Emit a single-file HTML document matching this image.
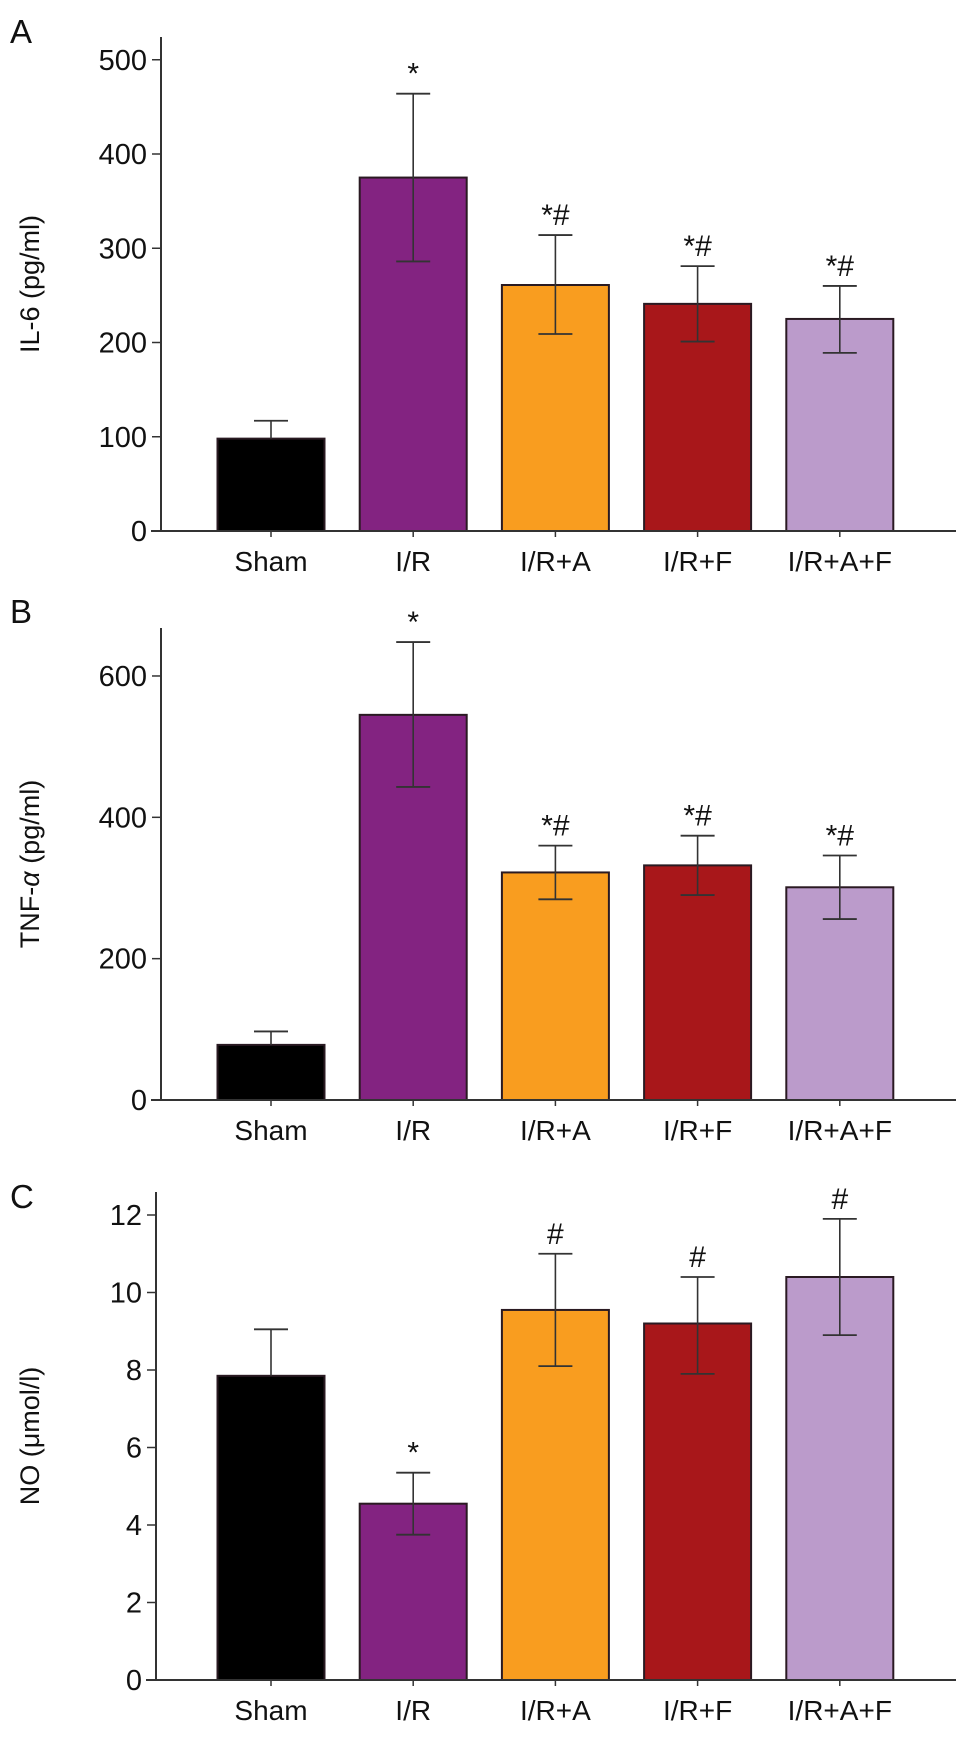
<!DOCTYPE html>
<html><head><meta charset="utf-8"><style>
html,body{margin:0;padding:0;background:#fff}
svg{display:block}
text{font-family:"Liberation Sans",sans-serif;fill:#111}
</style></head><body>
<svg id="fig" width="969" height="1743" viewBox="0 0 969 1743" xmlns="http://www.w3.org/2000/svg"></svg>
<script>
const categories = ["Sham","I/R","I/R+A","I/R+F","I/R+A+F"];
const colors = ["#000000","#832381","#F99D1F","#A8171A","#BB9BCB"];
const il6Values = [98,375,261,241,225];
const il6Upper = [117,464,314,281,260];
const il6Lower = [98,286,209,201,189];
const il6Marks = ["","*","*#","*#","*#"];
const il6Ticks = [0,100,200,300,400,500];
const tnfValues = [78,545,322,332,301];
const tnfUpper = [97,648,360,374,346];
const tnfLower = [78,443,284,290,256];
const tnfMarks = ["","*","*#","*#","*#"];
const tnfTicks = [0,200,400,600];
const noValues = [7.85,4.55,9.55,9.2,10.4];
const noUpper = [9.05,5.35,11.0,10.4,11.9];
const noLower = [7.85,3.75,8.1,7.9,8.9];
const noMarks = ["","*","#","#","#"];
const noTicks = [0,2,4,6,8,10,12];

const svg = document.getElementById('fig');
const NS = "http://www.w3.org/2000/svg";
function mk(tag, attrs, parent){
  const e = document.createElementNS(NS, tag);
  for (const k in attrs) e.setAttribute(k, attrs[k]);
  (parent||svg).appendChild(e);
  return e;
}
function panel(cfg){
  const g = mk('g', {});
  
  
  const y = v => cfg.y0 - v * cfg.pxPerUnit;
  const xc = i => 271 + i * 142.2;
  const L = mk('text', {x: 10, y: cfg.letterY, 'font-size': 33}, g);
  L.textContent = cfg.letter;
  
  
  const ya = mk('line', {x1: cfg.ax, y1: cfg.top, x2: cfg.ax, y2: cfg.y0, stroke: '#333', 'stroke-width': 2}, g);
  
  
  cfg.ticks.forEach(t => {
    const tl = mk('line', {x1: cfg.ax - 9, y1: y(t), x2: cfg.ax, y2: y(t), stroke: '#333', 'stroke-width': 1.5}, g);
    
    
    const tx = mk('text', {x: cfg.ax - 14, y: y(t) + 10, 'font-size': 29, 'text-anchor': 'end'}, g);
    tx.textContent = t;
    
    
  });
  const midY = (cfg.top + cfg.y0) / 2;
  const yt = mk('text', {x: 0, y: 0, 'font-size': 27, 'text-anchor': 'middle', transform: `translate(39,${midY}) rotate(-90)`}, g);
  yt.innerHTML = cfg.title;
  
  
  categories.forEach((c, i) => {
    const x = xc(i), w = 107;
    const top = y(cfg.values[i]);
    const r = mk('rect', {x: x - w/2, y: top, width: w, height: cfg.y0 - top, fill: colors[i], stroke: '#2a1a22', 'stroke-width': 2}, g);
    
    
    const eu = y(cfg.upper[i]), el = y(cfg.lower[i]);
    const stroke = '#333';
    const ev = mk('line', {x1: x, y1: eu, x2: x, y2: el, stroke: stroke, 'stroke-width': 1.6}, g);
    
    
    const cu = mk('line', {x1: x - 17, y1: eu, x2: x + 17, y2: eu, stroke: stroke, 'stroke-width': 1.8}, g);
    
    
    if (cfg.lower[i] < cfg.values[i]) {
      const cl = mk('line', {x1: x - 17, y1: el, x2: x + 17, y2: el, stroke: stroke, 'stroke-width': 1.8}, g);
      
      
    }
    if (cfg.marks[i]) {
      const m = mk('text', {x: x, y: eu - 10, 'font-size': 30, 'text-anchor': 'middle'}, g);
      m.textContent = cfg.marks[i];
      
      
    }
    const xt = mk('line', {x1: x, y1: cfg.y0, x2: x, y2: cfg.y0 + 6, stroke: '#333', 'stroke-width': 1.5}, g);
    
    
    const lab = mk('text', {x: x, y: cfg.y0 + 40, 'font-size': 28, 'text-anchor': 'middle'}, g);
    lab.textContent = c;
    
    
  });
  const xa = mk('line', {x1: cfg.ax - 10, y1: cfg.y0, x2: 956, y2: cfg.y0, stroke: '#333', 'stroke-width': 2}, g);
  
  
}
panel({name:'panel-a-il6', letter:'A', letterY:43, ax:161, top:37, y0:531, pxPerUnit:0.9425,
  ticks:il6Ticks, values:il6Values, upper:il6Upper, lower:il6Lower, marks:il6Marks, title:'IL-6 (pg/ml)'});
panel({name:'panel-b-tnf', letter:'B', letterY:623, ax:161, top:628, y0:1100, pxPerUnit:0.7067,
  ticks:tnfTicks, values:tnfValues, upper:tnfUpper, lower:tnfLower, marks:tnfMarks, title:'TNF-<tspan font-style="italic">α</tspan> (pg/ml)'});
panel({name:'panel-c-no', letter:'C', letterY:1208, ax:156, top:1192, y0:1680, pxPerUnit:38.75,
  ticks:noTicks, values:noValues, upper:noUpper, lower:noLower, marks:noMarks, title:'NO (μmol/l)'});
</script>
</body></html>
